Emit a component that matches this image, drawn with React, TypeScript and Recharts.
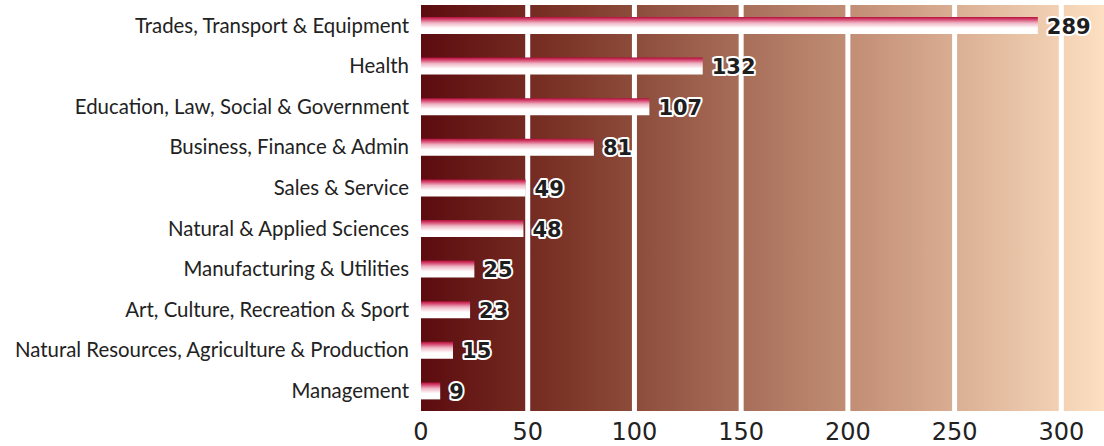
import React from "react";
import { BarChart, Bar, XAxis, YAxis, CartesianGrid, LabelList } from "recharts";

const categories = [
  "Trades, Transport & Equipment",
  "Health",
  "Education, Law, Social & Government",
  "Business, Finance & Admin",
  "Sales & Service",
  "Natural & Applied Sciences",
  "Manufacturing & Utilities",
  "Art, Culture, Recreation & Sport",
  "Natural Resources, Agriculture & Production",
  "Management",
];
const values = [289, 132, 107, 81, 49, 48, 25, 23, 15, 9];
const xTicks = [0, 50, 100, 150, 200, 250, 300];
const gridValues = [50, 100, 150, 200, 250, 300];

const data = categories.map((c, i) => ({ name: c, value: values[i] }));

const renderLabel = (props: any) => {
  const { x, y, width, height, value } = props;
  return (
    <text
      x={Number(x) + Number(width) + 9}
      y={Number(y) + Number(height) / 2 + 1}
      dominantBaseline="central"
      fontFamily="'DejaVu Sans', sans-serif"
      fontWeight={700}
      fontSize={21}
      fill="#1e1e1e"
      stroke="#ffffff"
      strokeWidth={4}
      strokeLinejoin="round"
      style={{ paintOrder: "stroke" }}
    >
      {value}
    </text>
  );
};

export default function App() {
  return (
    <div style={{ position: "absolute", left: 0, top: 0 }}>
      <BarChart
        width={1104}
        height={446}
        data={data}
        layout="vertical"
        margin={{ top: 5, right: 0, bottom: 0, left: 0 }}
        barCategoryGap={0}
      >
        <defs>
          <linearGradient id="bgGrad" x1="0" y1="0" x2="1" y2="0">
            <stop offset="0%" stopColor="#5c0b0f" />
            <stop offset="20%" stopColor="#7a3326" />
            <stop offset="45%" stopColor="#a46a55" />
            <stop offset="70%" stopColor="#cd9c82" />
            <stop offset="100%" stopColor="#fddfc1" />
          </linearGradient>
          <linearGradient id="barGrad" x1="0" y1="0" x2="0" y2="1">
            <stop offset="0%" stopColor="#b0103c" />
            <stop offset="12%" stopColor="#d23c66" />
            <stop offset="35%" stopColor="#eeb4c4" />
            <stop offset="65%" stopColor="#ffffff" />
            <stop offset="100%" stopColor="#ffffff" />
          </linearGradient>
        </defs>
        <CartesianGrid
          horizontal={false}
          vertical={true}
          fill="url(#bgGrad)"
          fillOpacity={1}
          stroke="#ffffff"
          strokeWidth={5}
          verticalValues={gridValues}
        />
        <XAxis
          type="number"
          domain={[0, 320]}
          ticks={xTicks}
          axisLine={false}
          tickLine={false}
          tickSize={0}
          tickMargin={12}
          tick={{ fontSize: 24, fill: "#222222", fontFamily: "'DejaVu Sans', sans-serif" }}
          height={35}
        />
        <YAxis
          type="category"
          dataKey="name"
          width={421}
          axisLine={false}
          tickLine={false}
          tickSize={0}
          tickMargin={12}
          interval={0}
          tick={{ fontSize: 20.4, fill: "#222222", fontFamily: "Lato, sans-serif" }}
        />
        <Bar dataKey="value" fill="url(#barGrad)" barSize={17} isAnimationActive={false}>
          <LabelList dataKey="value" content={renderLabel} />
        </Bar>
      </BarChart>
    </div>
  );
}
